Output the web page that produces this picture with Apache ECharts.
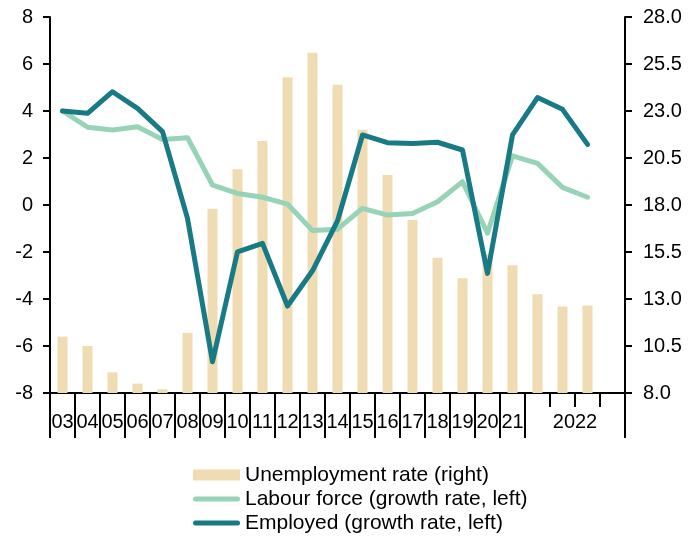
<!DOCTYPE html>
<html>
<head>
<meta charset="utf-8">
<script src="https://cdn.jsdelivr.net/npm/echarts@6/dist/echarts.min.js"></script>
<style>html,body{margin:0;padding:0;background:#fff}#c{width:688px;height:542px}</style>
</head>
<body>
<div id="c"></div>
<script>
const categories = ["03","04","05","06","07","08","09","10","11","12","13","14","15","16","17","18","19","20","21","2022Q1","2022Q2","2022Q3","2022Q4"];
const unemployment = [11.0, 10.5, 9.1, 8.5, 8.2, 11.2, 17.8, 19.9, 21.4, 24.8, 26.1, 24.4, 22.0, 19.6, 17.2, 15.2, 14.1, 15.4, 14.8, 13.25, 12.6, 12.65, null];
const labourForce = [4.0, 3.31, 3.19, 3.33, 2.79, 2.86, 0.85, 0.49, 0.33, 0.04, -1.09, -1.03, -0.14, -0.43, -0.36, 0.14, 0.99, -1.2, 2.09, 1.77, 0.75, 0.33, null];
const employed = [4.0, 3.9, 4.82, 4.11, 3.12, -0.57, -6.67, -1.99, -1.63, -4.3, -2.8, -0.68, 2.98, 2.65, 2.62, 2.67, 2.34, -2.91, 2.98, 4.57, 4.07, 2.58, null];
const leftTicks = [-8, -6, -4, -2, 0, 2, 4, 6, 8];
const rightTicks = [8, 10.5, 13, 15.5, 18, 20.5, 23, 25.5, 28];
const seriesNames = ["Unemployment rate (right)", "Labour force (growth rate, left)", "Employed (growth rate, left)"];

const FONT = "Liberation Sans, Arial, sans-serif";
const chart = echarts.init(document.getElementById('c'), null, {renderer: 'canvas'});
const lastYearIdx = 18;
const lineIcon = 'path://M2.5,0 L44.5,0 A2.5,2.5 0 0 1 44.5,5 L2.5,5 A2.5,2.5 0 0 1 2.5,0 Z';
const legendText = {fontFamily: FONT, fontSize: 21, color: '#000', lineHeight: 24};
chart.setOption({
  animation: false,
  textStyle: {fontFamily: FONT, color: '#000'},
  grid: {left: 50, right: 63, top: 17, bottom: 149, containLabel: false},
  legend: [{
    orient: 'vertical', left: 193, top: 463, itemGap: 0, padding: 0,
    itemWidth: 47, itemHeight: 11,
    textStyle: legendText,
    data: [{name: seriesNames[0], icon: 'rect'}]
  }, {
    orient: 'vertical', left: 193, top: 487, itemGap: 0, padding: 0,
    itemWidth: 47, itemHeight: 5,
    textStyle: legendText,
    data: [{name: seriesNames[1], icon: lineIcon}, {name: seriesNames[2], icon: lineIcon}]
  }],
  xAxis: [{
    type: 'category', data: categories, boundaryGap: true, position: 'bottom',
    axisLine: {show: true, onZero: false, lineStyle: {color: '#000', width: 2}},
    axisTick: {show: true, length: 45, lineStyle: {color: '#000', width: 2},
      interval: function (i) { return i <= lastYearIdx + 1; }},
    axisLabel: {
      interval: 0, margin: 19, color: '#000', fontFamily: FONT, fontSize: 20,
      formatter: function (v, i) {
        if (i <= lastYearIdx) return v;
        if (i === lastYearIdx + 2) return '{y|2022}';
        return '';
      },
      rich: {y: {fontFamily: FONT, fontSize: 20, color: '#000', padding: [0, 0, 0, 25]}}
    },
    splitLine: {show: false}
  }, {
    type: 'category', data: categories, boundaryGap: true, position: 'bottom',
    axisLine: {show: false, onZero: false},
    axisTick: {show: true, length: 14, interval: 0, lineStyle: {color: '#000', width: 2}},
    axisLabel: {show: false},
    splitLine: {show: false}
  }],
  yAxis: [{
    type: 'value', min: -8, max: 8, interval: 2, position: 'left',
    axisLine: {show: true, onZero: false, lineStyle: {color: '#000', width: 2}},
    axisTick: {show: true, length: 7, lineStyle: {color: '#000', width: 2}, customValues: leftTicks},
    axisLabel: {margin: 17, color: '#000', fontFamily: FONT, fontSize: 20, customValues: leftTicks},
    splitLine: {show: false}
  }, {
    type: 'value', min: 8, max: 28, position: 'right',
    axisLine: {show: true, onZero: false, lineStyle: {color: '#000', width: 2}},
    axisTick: {show: true, length: 7, lineStyle: {color: '#000', width: 2}, customValues: rightTicks},
    axisLabel: {margin: 18, color: '#000', fontFamily: FONT, fontSize: 20, customValues: rightTicks,
      formatter: function (v) { return Number(v).toFixed(1); }},
    splitLine: {show: false}
  }],
  series: [{
    name: seriesNames[0], type: 'bar', xAxisIndex: 0, yAxisIndex: 1,
    data: unemployment, barWidth: 10,
    itemStyle: {color: '#EFDCB3'}
  }, {
    name: seriesNames[1], type: 'line', xAxisIndex: 0, yAxisIndex: 0,
    data: labourForce, symbol: 'none', showSymbol: false,
    lineStyle: {color: '#97D3B6', width: 5, cap: 'round', join: 'round'},
    itemStyle: {color: '#97D3B6'}
  }, {
    name: seriesNames[2], type: 'line', xAxisIndex: 0, yAxisIndex: 0,
    data: employed, symbol: 'none', showSymbol: false,
    lineStyle: {color: '#177A84', width: 5, cap: 'round', join: 'round'},
    itemStyle: {color: '#177A84'}
  }]
});
</script>
</body>
</html>
